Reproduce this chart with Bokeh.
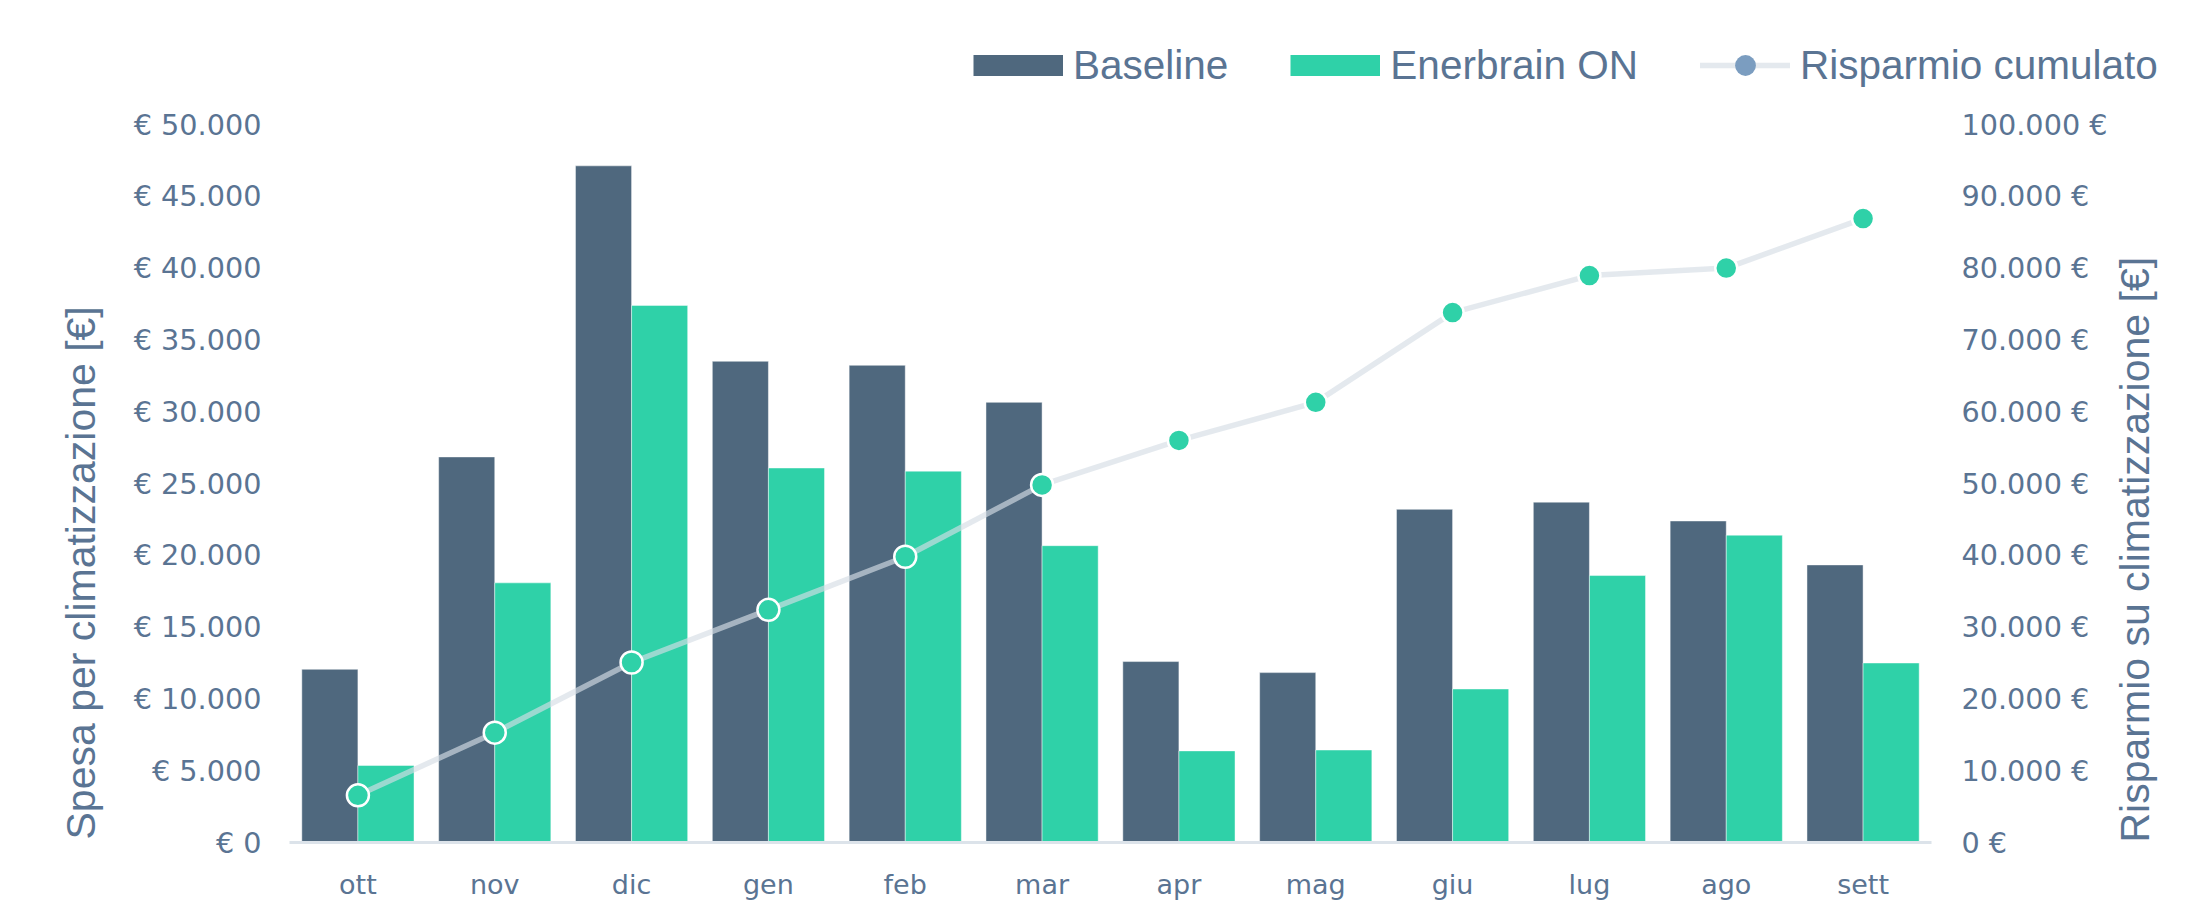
import math
from bokeh.plotting import figure
from bokeh.layouts import column, row
from bokeh.models import (FactorRange, Range1d, LinearAxis, FixedTicker, CustomJSTickFormatter,
                          ColumnDataSource, Legend, LegendItem, Title)
from bokeh.transform import dodge
from bokeh.embed import file_html
from bokeh.resources import INLINE

months = ["ott", "nov", "dic", "gen", "feb", "mar", "apr", "mag", "giu", "lug", "ago", "sett"]
baseline = [12060, 26850, 47120, 33510, 33230, 30650, 12600, 11830, 23200, 23700, 22390, 19330]
enerbrain_on = [5360, 18080, 37400, 26080, 25860, 20670, 6380, 6440, 10690, 18590, 21400, 12500]
risparmio_cumulato = [6570, 15300, 25070, 32400, 39800, 49800, 56000, 61300, 73800, 78960, 80000, 86900]
left_ticks = [0, 5000, 10000, 15000, 20000, 25000, 30000, 35000, 40000, 45000, 50000]
right_ticks = [0, 10000, 20000, 30000, 40000, 50000, 60000, 70000, 80000, 90000, 100000]

DARK = "#4f687e"
TEAL = "#2fd1a8"
TXT = "#5a7493"
LINE = "#d5dde5"
W = 2192
LEG_H = 100

src = ColumnDataSource(dict(month=months, baseline=baseline, enerbrain=enerbrain_on,
                            cum=risparmio_cumulato))

p = figure(width=W, height=802, x_range=FactorRange(*months, range_padding=0),
           y_range=Range1d(0, 50000), output_backend="svg", toolbar_location=None,
           min_border_left=289, min_border_right=261, min_border_top=24, min_border_bottom=58)
p.extra_y_ranges = {"right": Range1d(0, 100000)}
p.outline_line_color = None
p.xgrid.grid_line_color = None
p.ygrid.grid_line_color = None
p.background_fill_color = "white"

b1 = p.vbar(x=dodge("month", -0.205, range=p.x_range), top="baseline", width=0.41, source=src,
            fill_color=DARK, line_color="white", line_alpha=0.45, line_width=1)
b2 = p.vbar(x=dodge("month", 0.205, range=p.x_range), top="enerbrain", width=0.41, source=src,
            fill_color=TEAL, line_color="white", line_alpha=0.45, line_width=1)
ln = p.line(x="month", y="cum", source=src, y_range_name="right", line_color=LINE,
            line_alpha=0.65, line_width=5.5, line_cap="round", line_join="round")
sc = p.scatter(x="month", y="cum", source=src, y_range_name="right", size=22,
               fill_color=TEAL, line_color="white", line_width=2.5)

# axes
xa = p.xaxis[0]
xa.axis_line_color = "#dce3ea"
xa.axis_line_width = 3
xa.major_tick_line_color = None
xa.minor_tick_line_color = None
xa.major_label_text_font = "DejaVu Sans"
xa.major_label_text_font_size = "27px"
xa.major_label_text_color = TXT
xa.major_label_standoff = 20

ya = p.yaxis[0]
ya.ticker = FixedTicker(ticks=left_ticks)
ya.formatter = CustomJSTickFormatter(
    code=r"return '€ ' + tick.toFixed(0).replace(/\B(?=(\d{3})+(?!\d))/g, '.');")
ya.axis_line_color = None
ya.major_tick_line_color = None
ya.minor_tick_line_color = None
ya.major_label_text_font = "DejaVu Sans"
ya.major_label_text_font_size = "28.7px"
ya.major_label_text_color = TXT
ya.major_label_standoff = 22

# left axis title, aligned to the bottom of the plot area
lt = Title(text="Spesa per climatizzazione [€]", align="left", offset=3, standoff=53,
           text_font="Liberation Sans", text_font_size="41px", text_font_style="normal",
           text_color=TXT)
p.add_layout(lt, "left")

ra = LinearAxis(y_range_name="right", ticker=FixedTicker(ticks=right_ticks),
                formatter=CustomJSTickFormatter(
                    code=r"return tick.toFixed(0).replace(/\B(?=(\d{3})+(?!\d))/g, '.') + ' €';"))
ra.axis_line_color = None
ra.major_tick_line_color = None
ra.minor_tick_line_color = None
ra.major_label_text_font = "DejaVu Sans"
ra.major_label_text_font_size = "28.7px"
ra.major_label_text_color = TXT
ra.major_label_standoff = 24
ra.axis_label = "Risparmio su climatizzazione [€]"
ra.axis_label_orientation = math.pi / 2
ra.axis_label_text_font = "Liberation Sans"
ra.axis_label_text_font_size = "41px"
ra.axis_label_text_font_style = "normal"
ra.axis_label_text_color = TXT
ra.axis_label_standoff = 24
try:
    ra.axis_label_align = "start"
except Exception:
    pass
p.add_layout(ra, "right")

# legend strip: its own small figure whose ranges keep the legend-only glyphs out of view
lf = figure(width=W, height=LEG_H, x_range=Range1d(0, 1), y_range=Range1d(0, 1),
            output_backend="svg", toolbar_location=None, min_border=0,
            x_axis_location=None, y_axis_location=None)
lf.outline_line_color = None
lf.xgrid.grid_line_color = None
lf.ygrid.grid_line_color = None
sw1 = lf.line(x="baseline", y="baseline", source=src, line_color=DARK, line_width=21,
              line_cap="butt")
sw2 = lf.line(x="enerbrain", y="enerbrain", source=src, line_color=TEAL, line_width=21,
              line_cap="butt")
lln = lf.line(x="cum", y="cum", source=src, line_color=LINE, line_alpha=0.65, line_width=5.5,
              line_cap="round")
ldm = lf.scatter(x="cum", y="cum", source=src, size=21, fill_color="#7b9dc0", line_color=None)

legend = Legend(items=[LegendItem(label="Baseline", renderers=[sw1]),
                       LegendItem(label="Enerbrain ON", renderers=[sw2]),
                       LegendItem(label="Risparmio cumulato", renderers=[lln, ldm])],
                location=(973, 9), orientation="horizontal", glyph_width=90, glyph_height=52,
                label_standoff=10, spacing=62, padding=0, margin=0, border_line_color=None,
                background_fill_alpha=0, label_text_font="Liberation Sans",
                label_text_font_size="40.5px", label_text_color=TXT)
lf.add_layout(legend)

layout = column(row(lf), p, spacing=0)
open("out.html", "w").write(file_html(layout, INLINE))
